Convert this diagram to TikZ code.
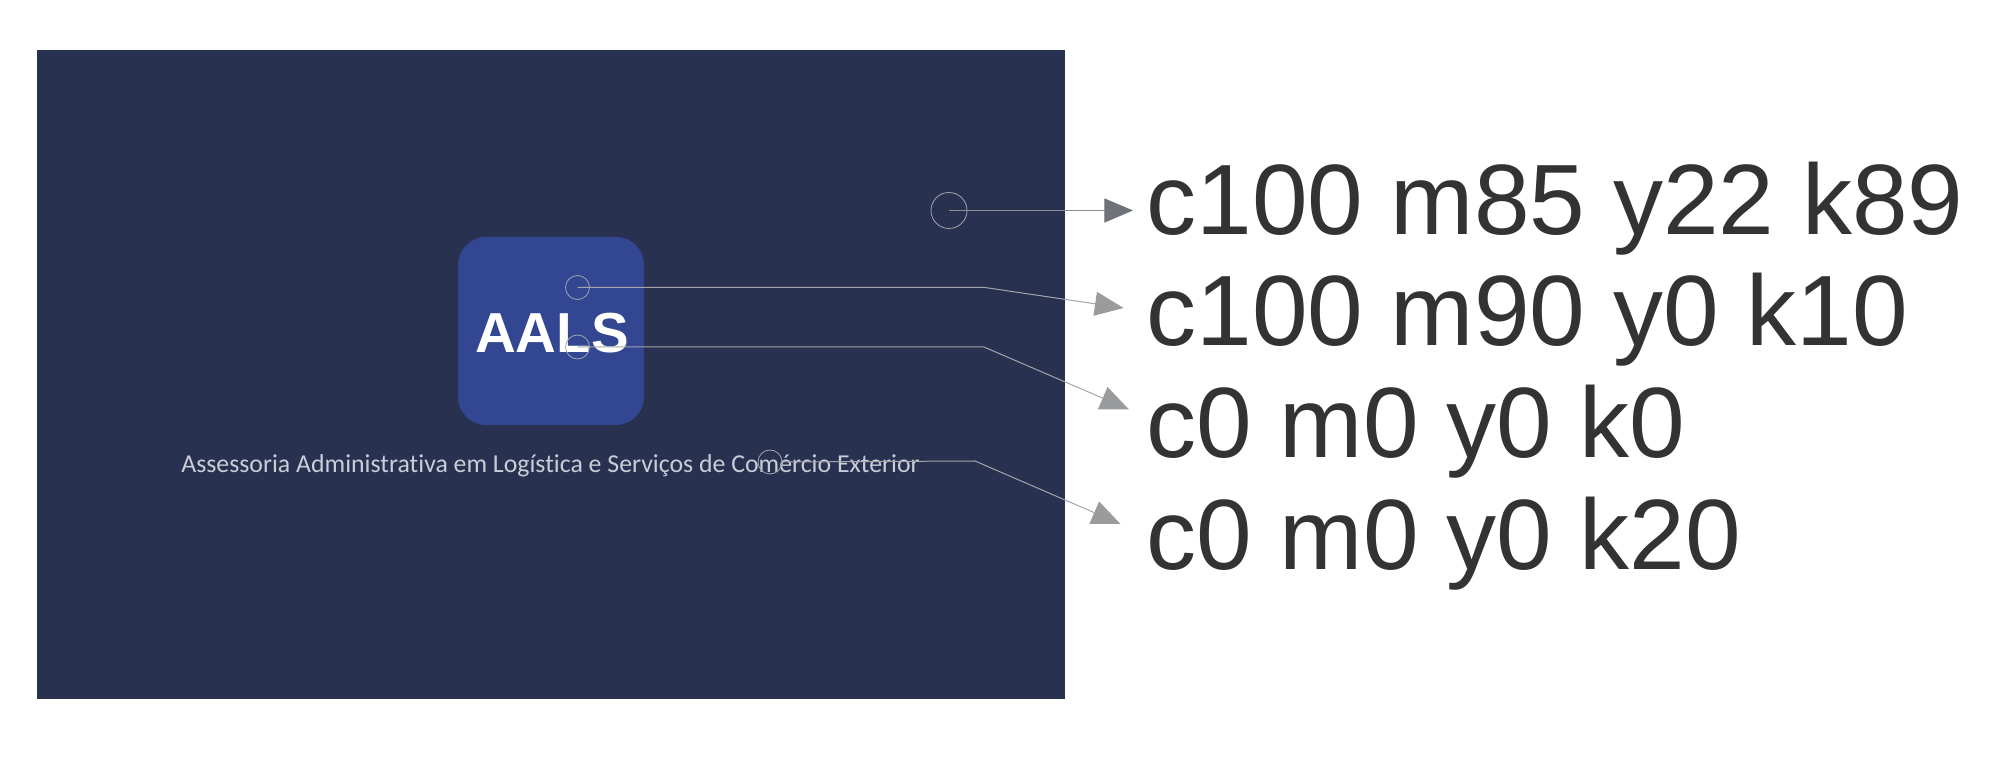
\documentclass[tikz,border=0pt]{standalone}
\usepackage{fontspec}
\setmainfont{Liberation Sans}
\newfontfamily\tagfont[Ligatures=NoCommon]{Carlito}
\usetikzlibrary{arrows.meta}
\usetikzlibrary{positioning}

\definecolor{panelblue}{HTML}{293150}
\definecolor{logoblue}{HTML}{334691}
\definecolor{leadgray}{HTML}{A3A5AA}
\definecolor{tipgray}{HTML}{9A9B9C}
\definecolor{tipdark}{HTML}{6F7278}
\definecolor{codegray}{HTML}{333333}
\definecolor{tagtext}{HTML}{C9CDD8}

\tikzset{
  ring/.style={circle,draw=leadgray,line width=.4pt,minimum size=12pt,inner sep=0pt},
  bigring/.style={ring,minimum size=18pt},
  leader/.style={draw=leadgray,line width=.5pt,-{Triangle[length=14.3pt,width=12pt,color=tipgray,fill=tipgray]}},
  leaderdark/.style={draw=leadgray!85!black,line width=.5pt,-{Triangle[length=14.3pt,width=12pt,color=tipdark,fill=tipdark]}},
  code/.style={anchor=base west,inner sep=0pt,text=codegray,font=\fontsize{50}{50}\selectfont}
}

\begin{document}
\begin{tikzpicture}[x=.5pt,y=-.5pt]
\useasboundingbox (0,0) rectangle (2012,763);
\fill[white] (0,0) rectangle (2012,763);

\fill[panelblue] (37,50) rectangle (1065,699);
\fill[logoblue,rounded corners=14pt] (458,237) rectangle (644,425);

\node[anchor=base,inner sep=0pt,text=white,font=\fontsize{28.2}{28}\selectfont\bfseries] (logotext) at (552,352.5) {AALS};
\node[anchor=base,inner sep=0pt,text=tagtext,font=\tagfont\fontsize{12.9}{14}\selectfont] (tagline) at (550.5,473) {Assessoria Administrativa em Logística e Serviços de Comércio Exterior};

\node[code] (code1) at (1146,235) {c100 m85 y22 k89};
\node[code] (code2) at (1146,346) {c100 m90 y0 k10};
\node[code] (code3) at (1146,458) {c0 m0 y0 k0};
\node[code] (code4) at (1146,570) {c0 m0 y0 k20};

\node[bigring] (ring1) at (949,210.5) {};
\node[ring] (ring2) at (577.5,287.5) {};
\node[ring] (ring3) at (577.5,347) {};
\node[ring] (ring4) at (770,462) {};

\coordinate (bend2) at (985,287.5);
\coordinate (bend3) at (984,347);
\coordinate (bend4) at (975,461);
\coordinate (tip1) at (1133,210.5);
\coordinate (tip2) at (1123.5,308);
\coordinate (tip3) at (1129,409.5);
\coordinate (tip4) at (1120.5,524);

\draw[leaderdark] (ring1.center) -- (tip1);
\draw[leader] (ring2.center) -- (bend2) -- (tip2);
\draw[leader] (ring3.center) -- (bend3) -- (tip3);
\draw[leader] (ring4.east) -- (bend4) -- (tip4);

\end{tikzpicture}
\end{document}
